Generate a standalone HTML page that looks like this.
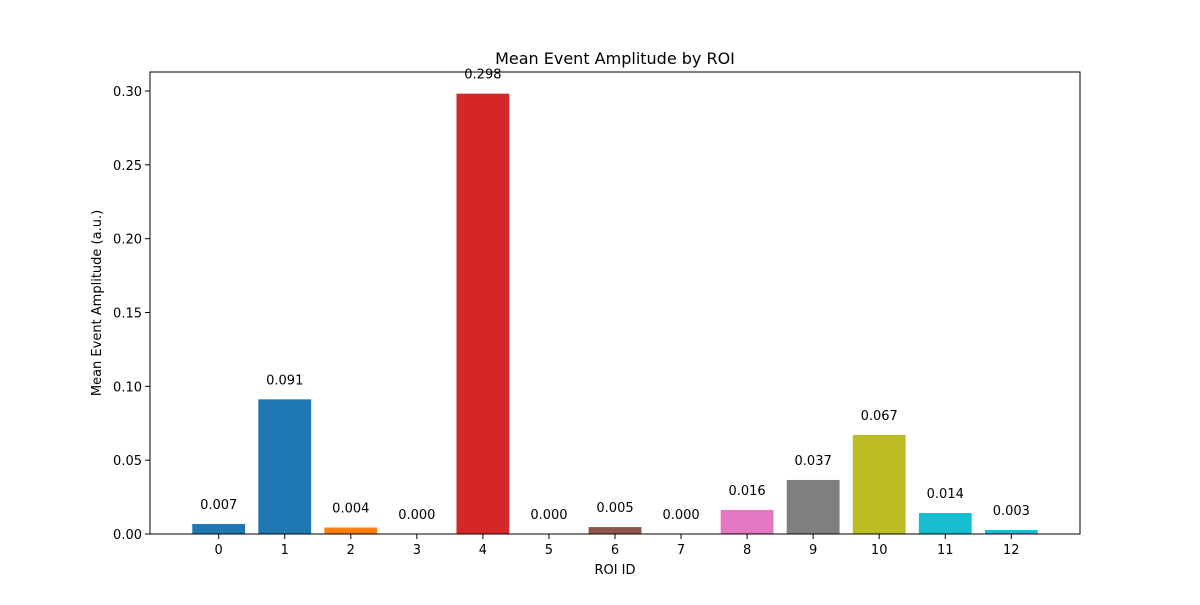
<!DOCTYPE html>
<html><head><meta charset="utf-8"><style>
body{margin:0;background:#fff}
text{font-family:"DejaVu Sans","Liberation Sans",sans-serif;fill:#000}
</style></head><body>
<svg id="c" width="1200" height="600" xmlns="http://www.w3.org/2000/svg">
<rect width="1200" height="600" fill="#fff"/>
<text x="615" y="64" font-size="16" text-anchor="middle">Mean Event Amplitude by ROI</text>
<text x="615" y="574" font-size="13" text-anchor="middle">ROI ID</text>
<text transform="translate(101,303) rotate(-90)" font-size="13" text-anchor="middle">Mean Event Amplitude (a.u.)</text>
<g id="bars"></g><g id="ax"></g>
<rect x="150" y="72" width="930" height="462" fill="none" stroke="#000" stroke-width="1"/>
</svg>
<script>
const categories=["0","1","2","3","4","5","6","7","8","9","10","11","12"];
const values=[0.0068,0.0912,0.0044,0,0.2982,0,0.0047,0,0.0163,0.0366,0.0671,0.0142,0.0027];
const colors=["#1f77b4","#1f77b4","#ff7f0e","#2ca02c","#d62728","#9467bd","#8c564b","#e377c2","#e377c2","#7f7f7f","#bcbd22","#17becf","#17becf"];
const yTicks=[0,0.05,0.10,0.15,0.20,0.25,0.30];
const yTickLabels=["0.00","0.05","0.10","0.15","0.20","0.25","0.30"];
const NS="http://www.w3.org/2000/svg";
const L=150,R=1080,T=72,B=534;
const xmin=-1.04,xmax=categories.length-1+1.04;
const X=i=>L+(i-xmin)/(xmax-xmin)*(R-L);
const Y=v=>B-v/0.3*443;
const bw=0.8*(R-L)/(xmax-xmin);
const bars=document.getElementById('bars'),ax=document.getElementById('ax');
function mk(tag,attrs,parent){const e=document.createElementNS(NS,tag);for(const k in attrs)e.setAttribute(k,attrs[k]);parent.appendChild(e);return e;}
values.forEach((v,i)=>{
 const r=mk('rect',{x:X(i)-bw/2,y:Y(v),width:bw,height:B-Y(v),fill:colors[i]},bars);
 
 
 const t=mk('text',{x:X(i),y:Y(v)-15,'font-size':13,'text-anchor':'middle'},bars);
 t.textContent=v.toFixed(3);
 
 
 const tk=mk('line',{x1:X(i),x2:X(i),y1:B,y2:B+5,stroke:'#000'},ax);
 
 
 const tl=mk('text',{x:X(i),y:B+20,'font-size':13,'text-anchor':'middle'},ax);
 tl.textContent=categories[i];
 
 
});
yTicks.forEach((v,i)=>{
 const tk=mk('line',{x1:L-5,x2:L,y1:Y(v),y2:Y(v),stroke:'#000'},ax);
 
 
 const tl=mk('text',{x:L-8,y:Y(v)+5,'font-size':13,'text-anchor':'end'},ax);
 tl.textContent=yTickLabels[i];
 
 
});
</script>
</body></html>
